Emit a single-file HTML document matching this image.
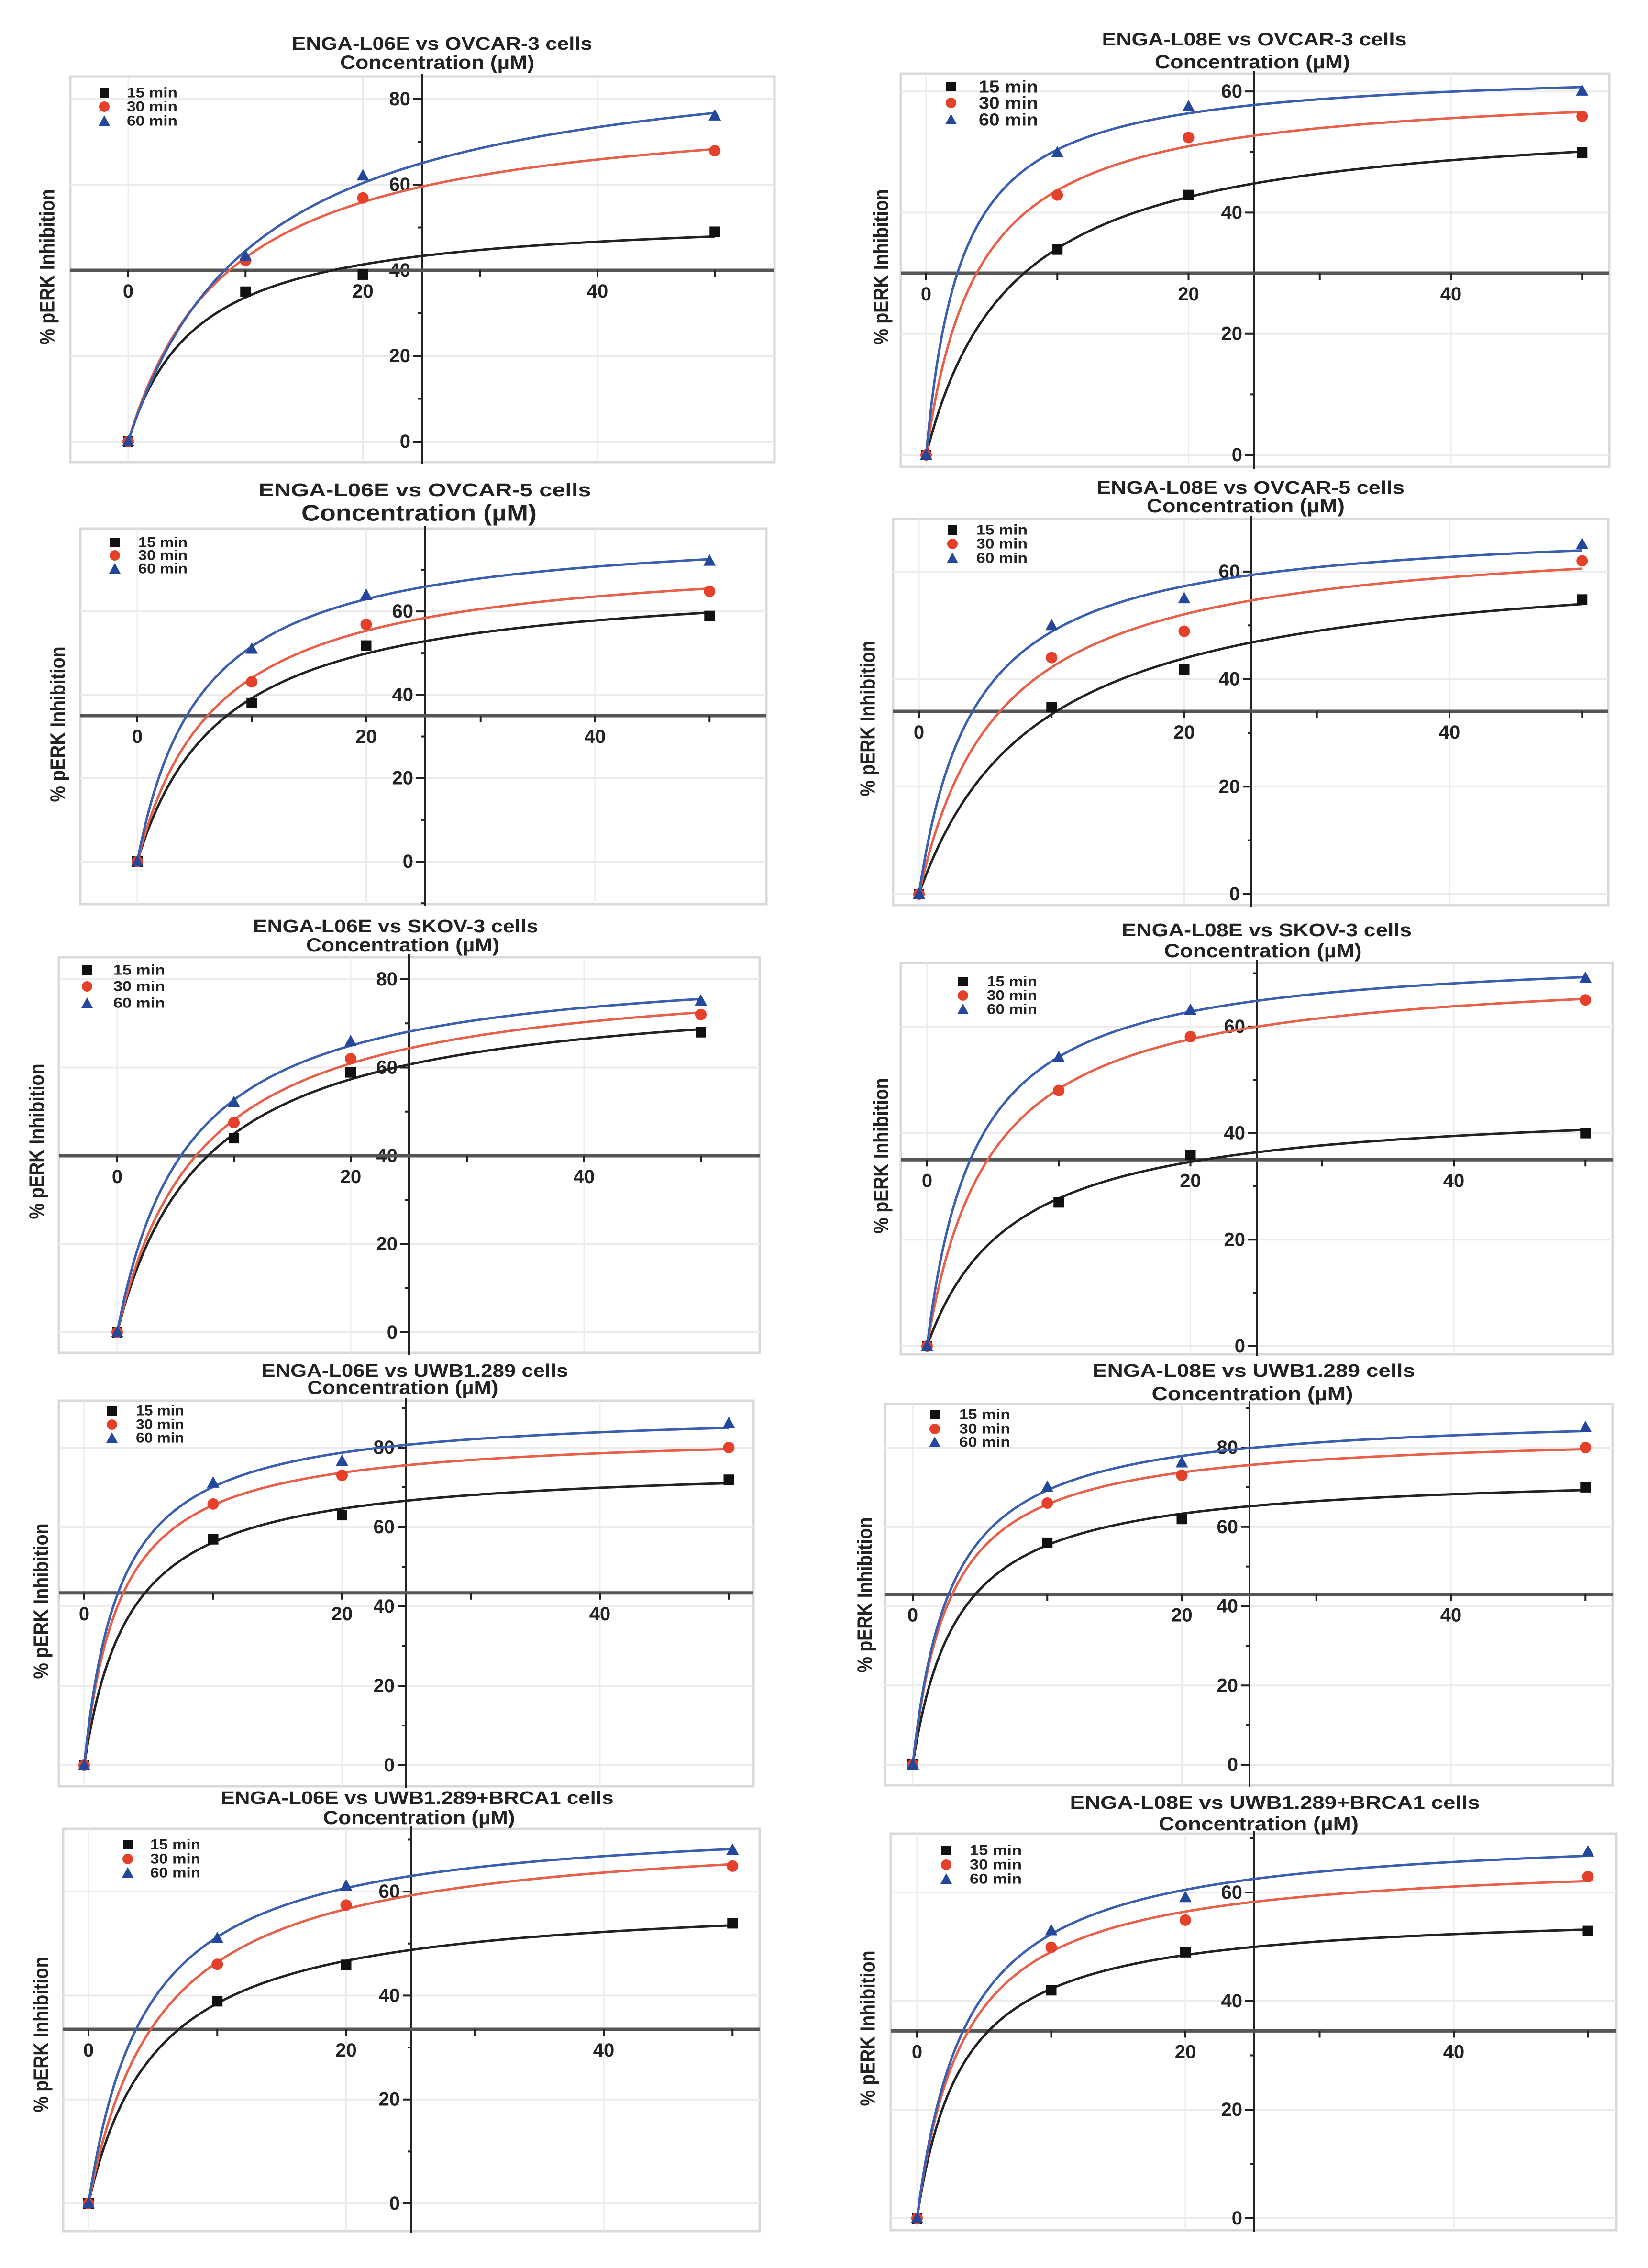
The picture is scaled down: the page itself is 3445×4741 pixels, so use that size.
<!DOCTYPE html>
<html><head><meta charset="utf-8"><style>html,body{margin:0;padding:0;background:#fff}svg{display:block}</style></head>
<body>
<svg id="fig" xmlns="http://www.w3.org/2000/svg" width="3445" height="4741" viewBox="0 0 3445 4741" font-family="'Liberation Sans', Arial, sans-serif" font-weight="bold">
<rect x="0" y="0" width="3445" height="4741" fill="#ffffff"/>
</svg>
<script>
// ---- data ----
const concentrations = [0, 10, 20, 50];
const seriesNames = ["15 min", "30 min", "60 min"];
const xTickLabels = ["0", "20", "40"];
const yTickValues = [0, 20, 40, 60, 80];
const titles = [
  "ENGA-L06E vs OVCAR-3 cells", "ENGA-L08E vs OVCAR-3 cells",
  "ENGA-L06E vs OVCAR-5 cells", "ENGA-L08E vs OVCAR-5 cells",
  "ENGA-L06E vs SKOV-3 cells", "ENGA-L08E vs SKOV-3 cells",
  "ENGA-L06E vs UWB1.289 cells", "ENGA-L08E vs UWB1.289 cells",
  "ENGA-L06E vs UWB1.289+BRCA1 cells", "ENGA-L08E vs UWB1.289+BRCA1 cells"
];
const p1_15 = [0, 35, 39, 49];   const p1_30 = [0, 42.3, 56.9, 67.9]; const p1_60 = [0, 43.3, 62.1, 76.1];
const p2_15 = [0, 33.9, 42.9, 49.9]; const p2_30 = [0, 42.9, 52.4, 55.9]; const p2_60 = [0, 49.9, 57.5, 60.1];
const p3_15 = [0, 38.0, 51.8, 58.9]; const p3_30 = [0, 43.1, 56.9, 64.8]; const p3_60 = [0, 51.0, 63.9, 72.1];
const p4_15 = [0, 34.8, 41.8, 54.8]; const p4_30 = [0, 44.0, 48.9, 62.0]; const p4_60 = [0, 50.0, 55.0, 65.1];
const p5_15 = [0, 44.0, 58.9, 68.0]; const p5_30 = [0, 47.5, 62.0, 72.0]; const p5_60 = [0, 52.1, 65.9, 75.1];
const p6_15 = [0, 27.0, 35.9, 40.0]; const p6_30 = [0, 48.0, 58.1, 65.0]; const p6_60 = [0, 54.2, 63.1, 69.1];
const p7_15 = [0, 56.9, 63.0, 71.9]; const p7_30 = [0, 65.8, 73.0, 80.0]; const p7_60 = [0, 71.1, 76.6, 86.1];
const p8_15 = [0, 56.0, 62.0, 70.0]; const p8_30 = [0, 66.0, 73.0, 80.0]; const p8_60 = [0, 70.0, 76.2, 85.1];
const p9_15 = [0, 38.9, 45.9, 53.9]; const p9_30 = [0, 46.0, 57.4, 64.9]; const p9_60 = [0, 51.0, 61.1, 68.0];
const p10_15 = [0, 42.0, 49.0, 52.9]; const p10_30 = [0, 49.9, 54.9, 62.9]; const p10_60 = [0, 53.0, 59.1, 67.5];
const panelSeries = [
  [p1_15, p1_30, p1_60], [p2_15, p2_30, p2_60], [p3_15, p3_30, p3_60], [p4_15, p4_30, p4_60],
  [p5_15, p5_30, p5_60], [p6_15, p6_30, p6_60], [p7_15, p7_30, p7_60], [p8_15, p8_30, p8_60],
  [p9_15, p9_30, p9_60], [p10_15, p10_30, p10_60]
];

// ---- layout (pixels only) ----
const layouts = [
 {fl:147,fr:1619,ft:160,fb:966,ax:882,x0:268,x40:1249,y0:923,p20:179,cross:40,tc:924,tw:628,ty:92,sc:914,sw:406,sy:131,sfs:40,lgx:218,lgt:265,lgy:[194,223,253],lfs:30,ltw:106,ylx:99,yly:558},
 {fl:1883,fr:3364,ft:154,fb:976,ax:2621,x0:1936,x40:3033,y0:951,p20:253.3,cross:30,tc:2622,tw:637,ty:83,sc:2618,sw:408,sy:130,sfs:40,lgx:1988,lgt:2046,lgy:[181,215,250],lfs:36,ltw:124,ylx:1842,yly:558},
 {fl:168,fr:1602,ft:1105,fb:1890,ax:888,x0:287,x40:1244,y0:1801,p20:174.3,cross:35,tc:888,tw:695,ty:1025,sc:876,sw:492,sy:1073,sfs:48,lgx:240,lgt:289,lgy:[1134,1161,1189],lfs:30,ltw:103,ylx:121,yly:1514},
 {fl:1867,fr:3362,ft:1085,fb:1892,ax:2616,x0:1921,x40:3030,y0:1869,p20:224.7,cross:34,tc:2614,tw:644,ty:1020,sc:2604,sw:414,sy:1058,sfs:40,lgx:1991,lgt:2041,lgy:[1108,1137,1167],lfs:30,ltw:107,ylx:1814,yly:1502},
 {fl:123,fr:1588,ft:2001,fb:2828,ax:855,x0:245,x40:1221,y0:2785,p20:184.5,cross:40,tc:827,tw:596,ty:1937,sc:842,sw:404,sy:1976,sfs:40,lgx:182,lgt:237,lgy:[2028,2062,2097],lfs:30,ltw:108,ylx:77,yly:2386},
 {fl:1883,fr:3371,ft:2013,fb:2831,ax:2627,x0:1938,x40:3039,y0:2814,p20:222.7,cross:35,tc:2648,tw:606,ty:1945,sc:2640,sw:413,sy:1988,sfs:40,lgx:2013,lgt:2063,lgy:[2052,2081,2110],lfs:30,ltw:105,ylx:1842,yly:2416},
 {fl:123,fr:1575,ft:2928,fb:3734,ax:849,x0:176,x40:1254,y0:3690,p20:166,cross:43.4,tc:867,tw:641,ty:2866,sc:842,sw:399,sy:2901,sfs:40,lgx:234,lgt:284,lgy:[2949,2978,3006],lfs:30,ltw:101,ylx:86,yly:3347},
 {fl:1850,fr:3371,ft:2935,fb:3732,ax:2612,x0:1908,x40:3033,y0:3689,p20:165.75,cross:43,tc:2621,tw:674,ty:2866,sc:2618,sw:421,sy:2914,sfs:40,lgx:1954,lgt:2005,lgy:[2957,2987,3015],lfs:30,ltw:107,ylx:1808,yly:3334},
 {fl:132,fr:1588,ft:3823,fb:4664,ax:860,x0:185,x40:1262,y0:4606,p20:217.3,cross:33.5,tc:872,tw:821,ty:3759,sc:876,sw:401,sy:3800,sfs:40,lgx:267,lgt:314,lgy:[3856,3886,3915],lfs:30,ltw:105,ylx:86,yly:4253},
 {fl:1862,fr:3379,ft:3833,fb:4662,ax:2621,x0:1917,x40:3039,y0:4637,p20:227,cross:34.5,tc:2665,tw:857,ty:3769,sc:2631,sw:418,sy:3813,sfs:40,lgx:1978,lgt:2027,lgy:[3868,3898,3928],lfs:30,ltw:109,ylx:1814,yly:4240}
];
const markerFill = ["#111111", "#e5402a", "#23479a"];
const curveColor = ["#222222", "#e8604a", "#3b5fb0"];

const NS = "http://www.w3.org/2000/svg";
const svg = document.getElementById("fig");
function mk(tag, attrs, parent) {
  const e = document.createElementNS(NS, tag);
  for (const k in attrs) e.setAttribute(k, attrs[k]);
  (parent || svg).appendChild(e);
  return e;
}
// hyperbolic (one-site binding) fit from data
function fitHyperbola(xs, ys) {
  let best = {k: 1, b: 0, err: Infinity};
  for (let k = 0.2; k <= 80; k += 0.05) {
    let sfy = 0, sff = 0;
    for (let i = 0; i < xs.length; i++) { const f = xs[i] / (k + xs[i]); sfy += f * ys[i]; sff += f * f; }
    const b = sfy / sff; let err = 0;
    for (let i = 0; i < xs.length; i++) { const d = ys[i] - b * xs[i] / (k + xs[i]); err += d * d; }
    if (err < best.err) best = {k, b, err};
  }
  return best;
}

layouts.forEach((L, pi) => {
  const g = mk("g", {});
  
  
  const sx = (L.x40 - L.x0) / 40;
  const X = v => L.x0 + v * sx;
  const Y = v => L.y0 - v * L.p20 / 20;
  const yMaxV = (L.y0 - L.ft) / L.p20 * 20, yMinV = (L.y0 - L.fb) / L.p20 * 20;
  const axY = Y(L.cross);

  // frame
  const fr = mk("rect", {x: L.fl, y: L.ft, width: L.fr - L.fl, height: L.fb - L.ft, fill: "#fff", stroke: "#d9d9d9", "stroke-width": 5}, g);
  
  
  // gridlines
  [0, 20, 40].forEach(v => {
    const l = mk("line", {x1: X(v), x2: X(v), y1: L.ft, y2: L.fb, stroke: "#ececec", "stroke-width": 3}, g);
    
    
  });
  yTickValues.forEach(v => {
    if (v > yMaxV || v < yMinV) return;
    const l = mk("line", {x1: L.fl, x2: L.fr, y1: Y(v), y2: Y(v), stroke: "#ececec", "stroke-width": 4}, g);
    
    
  });
  // y axis
  const ya = mk("line", {x1: L.ax, x2: L.ax, y1: L.ft - 6, y2: L.fb + 4, stroke: "#222", "stroke-width": 4}, g);
  
  
  for (let v = Math.ceil(yMinV / 10) * 10; v <= yMaxV; v += 10) {
    const major = v % 20 === 0;
    const t = mk("line", {x1: L.ax - (major ? 18 : 8), x2: L.ax, y1: Y(v), y2: Y(v), stroke: "#222", "stroke-width": 4}, g);
    
    
    if (major && yTickValues.indexOf(v) >= 0) {
      const tx = mk("text", {x: L.ax - 24, y: Y(v), "text-anchor": "end", "dominant-baseline": "central", "font-size": 40, fill: "#222"}, g);
      tx.textContent = String(v);
      
      
    }
  }
  // x axis (horizontal)
  const xa = mk("line", {x1: L.fl, x2: L.fr, y1: axY, y2: axY, stroke: "#555", "stroke-width": 7}, g);
  
  
  for (let v = 0; v <= 50; v += 10) {
    const t = mk("line", {x1: X(v), x2: X(v), y1: axY, y2: axY + 14, stroke: "#222", "stroke-width": 4}, g);
    
    
  }
  xTickLabels.forEach(lbl => {
    const tx = mk("text", {x: X(+lbl), y: axY + 44, "text-anchor": "middle", "dominant-baseline": "central", "font-size": 40, fill: "#222"}, g);
    tx.textContent = lbl;
    
    
  });
  // titles
  const t1 = mk("text", {x: L.tc, y: L.ty, "text-anchor": "middle", "dominant-baseline": "central", "font-size": 38, fill: "#222", textLength: L.tw, lengthAdjust: "spacingAndGlyphs"}, g);
  t1.textContent = titles[pi];
  
  
  const t2 = mk("text", {x: L.sc, y: L.sy, "text-anchor": "middle", "dominant-baseline": "central", "font-size": L.sfs, fill: "#222", textLength: L.sw, lengthAdjust: "spacingAndGlyphs"}, g);
  t2.textContent = "Concentration (\u00b5M)";
  
  
  // y label
  const yl = mk("text", {x: L.ylx, y: L.yly, "text-anchor": "middle", "dominant-baseline": "central", "font-size": 44, fill: "#222", textLength: 325, lengthAdjust: "spacingAndGlyphs", transform: "rotate(-90 " + L.ylx + " " + L.yly + ")"}, g);
  yl.textContent = "%  pERK Inhibition";
  
  

  // series
  panelSeries[pi].forEach((ys, si) => {
    const fit = fitHyperbola(concentrations, ys);
    let d = "";
    for (let i = 0; i <= 250; i++) {
      const xv = 50 * i / 250;
      const yv = fit.b * xv / (fit.k + xv);
      d += (i ? "L" : "M") + X(xv).toFixed(1) + "," + Y(yv).toFixed(1);
    }
    const p = mk("path", {d, fill: "none", stroke: curveColor[si], "stroke-width": 5}, g);
    
    
    concentrations.forEach((xv, i) => {
      const cx = X(xv), cy = Y(ys[i]);
      let m;
      if (si === 0) m = mk("rect", {x: cx - 11, y: cy - 11, width: 22, height: 22, fill: markerFill[0]}, g);
      else if (si === 1) m = mk("circle", {cx, cy, r: 12, fill: markerFill[1]}, g);
      else m = mk("polygon", {points: (cx) + "," + (cy - 14) + " " + (cx - 13) + "," + (cy + 10) + " " + (cx + 13) + "," + (cy + 10), fill: markerFill[2]}, g);
      
      
    });
  });

  // legend
  seriesNames.forEach((nm, si) => {
    const ly = L.lgy[si], lx = L.lgx;
    let m;
    if (si === 0) m = mk("rect", {x: lx - 10, y: ly - 10, width: 20, height: 20, fill: markerFill[0]}, g);
    else if (si === 1) m = mk("circle", {cx: lx, cy: ly, r: 11, fill: markerFill[1]}, g);
    else m = mk("polygon", {points: lx + "," + (ly - 12) + " " + (lx - 12) + "," + (ly + 10) + " " + (lx + 12) + "," + (ly + 10), fill: markerFill[2]}, g);
    
    
    const tx = mk("text", {x: L.lgt, y: ly, "dominant-baseline": "central", "font-size": L.lfs, fill: "#222", textLength: L.ltw, lengthAdjust: "spacingAndGlyphs"}, g);
    tx.textContent = nm;
    
    
  });
});
</script>
</body></html>
